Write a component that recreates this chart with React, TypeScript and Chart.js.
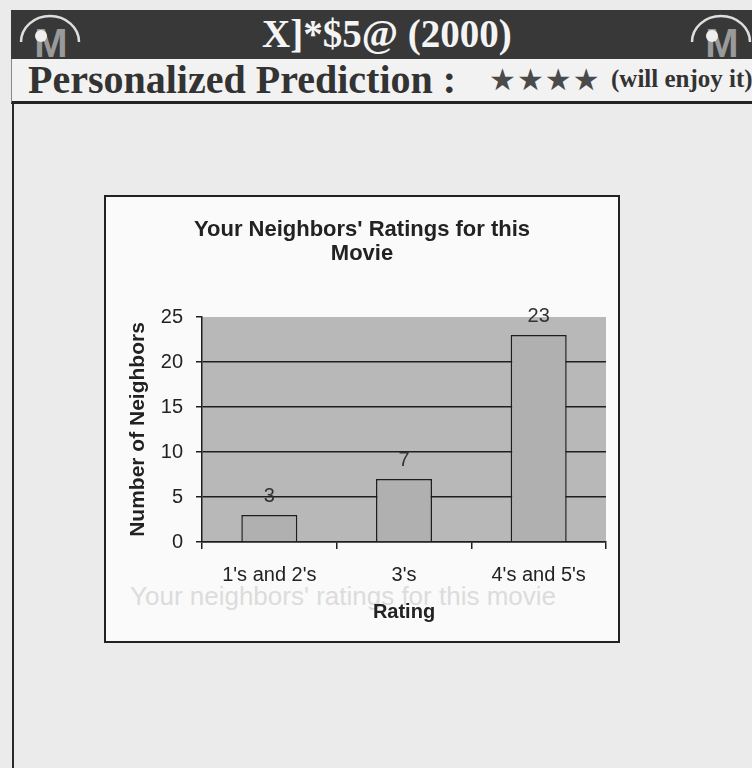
import React, { useEffect, useRef } from "react";
import { Chart, registerables } from "chart.js";

Chart.register(...registerables);

const categories = ["1's and 2's", "3's", "4's and 5's"];
const neighborCounts = [3, 7, 23];
const yMin = 0;
const yMax = 25;
const yStep = 5;
const chartTitle = ["Your Neighbors' Ratings for this", "Movie"];
const yAxisTitle = "Number of Neighbors";
const xAxisTitle = "Rating";

const SANS = 'Arial, "Liberation Sans", sans-serif';
const SERIF = '"Times New Roman", "Liberation Serif", serif';

const plotBgBehindGrid = {
  id: "plotBgBehindGrid",
  beforeDraw(chart: any) {
    const { ctx, chartArea } = chart;
    ctx.save();
    ctx.fillStyle = "#b8b8b8";
    ctx.fillRect(chartArea.left, chartArea.top, chartArea.right - chartArea.left, chartArea.bottom - chartArea.top);
    ctx.restore();
  },
};

const valueLabels = {
  id: "valueLabels",
  afterDatasetsDraw(chart: any) {
    const { ctx } = chart;
    const meta = chart.getDatasetMeta(0);
    const data = chart.data.datasets[0].data;
    ctx.save();
    ctx.font = `20px ${SANS}`;
    ctx.fillStyle = "#333";
    ctx.textAlign = "center";
    ctx.textBaseline = "middle";
    meta.data.forEach((bar: any, i: number) => {
      ctx.fillText(String(data[i]), bar.x, bar.y - 19);
    });
    ctx.restore();
  },
};

function Logo({ left }: { left: number }) {
  return (
    <svg style={{ position: "absolute", left, top: 12, width: 66, height: 46 }} viewBox="0 0 66 46">
      <path d="M4 30 A29 26 0 0 1 62 30" fill="none" stroke="#dedede" strokeWidth="2.5" />
      <text x="34" y="45" textAnchor="middle" fontFamily={SANS} fontWeight="bold" fontSize="40" fill="#9a9a9a">
        M
      </text>
      <circle cx="24" cy="24" r="6" fill="#eeeeee" />
    </svg>
  );
}

export default function App() {
  const canvasRef = useRef<HTMLCanvasElement | null>(null);

  useEffect(() => {
    if (!canvasRef.current) return;
    const chart = new Chart(canvasRef.current, {
      type: "bar",
      data: {
        labels: categories,
        datasets: [
          {
            data: neighborCounts,
            backgroundColor: "#b0b0b0",
            borderColor: "#1e1e1e",
            borderWidth: 1.5,
            barPercentage: 0.416,
            categoryPercentage: 1,
          },
        ],
      },
      options: {
        animation: false,
        responsive: false,
        maintainAspectRatio: false,
        layout: { padding: { left: 12, right: 12, top: 0, bottom: 0 } },
        plugins: {
          legend: { display: false },
          tooltip: { enabled: false },
          title: {
            display: true,
            text: chartTitle,
            color: "#222",
            font: { family: SANS, size: 22, weight: "bold", lineHeight: "24px" },
            padding: { top: 21, bottom: 51 },
          },
        },
        scales: {
          x: {
            afterFit(scale: any) {
              scale.height = 99;
            },
            grid: {
              offset: true,
              drawOnChartArea: false,
              drawTicks: true,
              tickLength: 7,
              tickColor: "#1e1e1e",
              lineWidth: 1.5,
            },
            border: { display: true, color: "#1e1e1e", width: 1.5 },
            ticks: { color: "#222", font: { family: SANS, size: 20 }, padding: 14, maxRotation: 0 },
            title: {
              display: true,
              text: xAxisTitle,
              color: "#222",
              font: { family: SANS, size: 20, weight: "bold" },
              padding: { top: 0, bottom: 17 },
            },
          },
          y: {
            min: yMin,
            max: yMax,
            afterFit(scale: any) {
              scale.width = 84;
            },
            grid: {
              color: (c: any) => (c.tick && c.tick.value === yMax ? "rgba(0,0,0,0)" : "#1e1e1e"),
              tickColor: "#1e1e1e",
              lineWidth: 1.5,
              tickLength: 6,
            },
            border: { display: true, color: "#1e1e1e", width: 1.5 },
            ticks: { stepSize: yStep, color: "#222", font: { family: SANS, size: 20 }, padding: 13 },
            title: {
              display: true,
              text: yAxisTitle,
              color: "#222",
              font: { family: SANS, size: 21, weight: "bold" },
              padding: { top: 8, bottom: 0 },
            },
          },
        },
      },
      plugins: [plotBgBehindGrid, valueLabels],
    } as any);
    return () => chart.destroy();
  }, []);

  return (
    <div
      style={{
        position: "absolute",
        left: 0,
        top: 0,
        width: 752,
        height: 768,
        overflow: "hidden",
        background: "#ebebeb",
        fontFamily: SERIF,
      }}
    >
      {/* dark header */}
      <div style={{ position: "absolute", left: 11, top: 10, width: 741, height: 49, background: "#383838" }} />
      <Logo left={17} />
      <Logo left={688} />
      <div
        style={{
          position: "absolute",
          left: 262,
          top: 12,
          color: "#f4f4f4",
          fontSize: 39,
          lineHeight: "44px",
          whiteSpace: "nowrap",
          fontWeight: "bold",
        }}
      >
        X]*$5@ (2000)
      </div>
      {/* prediction row */}
      <div
        style={{
          position: "absolute",
          left: 11,
          top: 59,
          width: 741,
          height: 42,
          background: "#f2f2f2",
          borderBottom: "3px solid #222",
          borderLeft: "1px solid #888",
          boxSizing: "content-box",
        }}
      />
      <div
        style={{
          position: "absolute",
          left: 28,
          top: 58,
          color: "#333",
          fontSize: 40,
          fontWeight: "bold",
          lineHeight: "44px",
          whiteSpace: "nowrap",
        }}
      >
        Personalized Prediction :
      </div>
      <div
        style={{
          position: "absolute",
          left: 489,
          top: 63,
          color: "#4a4a4a",
          fontSize: 30,
          lineHeight: "34px",
          whiteSpace: "nowrap",
          fontFamily: '"DejaVu Sans", sans-serif',
          letterSpacing: 1,
        }}
      >
        ★★★★
      </div>
      <div
        style={{
          position: "absolute",
          left: 611,
          top: 64,
          color: "#333",
          fontSize: 25,
          fontWeight: "bold",
          lineHeight: "30px",
          whiteSpace: "nowrap",
        }}
      >
        (will enjoy it)
      </div>
      {/* content panel left border */}
      <div style={{ position: "absolute", left: 12, top: 104, width: 2, height: 670, background: "#2a2a2a" }} />
      {/* chart box */}
      <div
        style={{
          position: "absolute",
          left: 104,
          top: 195,
          width: 516,
          height: 448,
          boxSizing: "border-box",
          border: "2px solid #222",
          background: "#fafafa",
        }}
      >
        <div
          style={{
            position: "absolute",
            left: 24,
            top: 384,
            fontFamily: SANS,
            fontSize: 26,
            color: "#dcdcdc",
            whiteSpace: "nowrap",
          }}
        >
          Your neighbors' ratings for this movie
        </div>
        <canvas
          ref={canvasRef}
          width={512}
          height={444}
          style={{ position: "absolute", left: 0, top: 0, width: 512, height: 444 }}
        />
      </div>
    </div>
  );
}
